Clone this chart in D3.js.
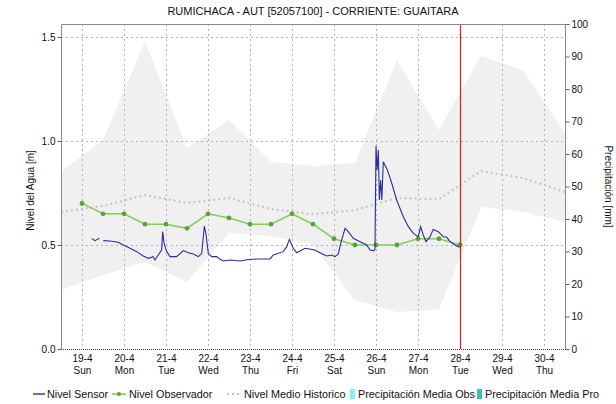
<!DOCTYPE html>
<html>
<head>
<meta charset="utf-8">
<script src="https://cdn.jsdelivr.net/npm/d3@7"></script>
<style>
  body { margin: 0; background: #fff; }
  svg { display: block; }
  text { font-family: "Liberation Sans", Arial, sans-serif; fill: #111; }
</style>
</head>
<body>
<svg id="chart" width="616" height="404"></svg>
<script>
// ---- data -------------------------------------------------------------
const chartTitle = "RUMICHACA - AUT [52057100] - CORRIENTE: GUAITARA";

const dayTicks = ["2020-04-19", "2020-04-20", "2020-04-21", "2020-04-22", "2020-04-23", "2020-04-24",
                  "2020-04-25", "2020-04-26", "2020-04-27", "2020-04-28", "2020-04-29", "2020-04-30"];
const dayNames = ["Sun", "Mon", "Tue", "Wed", "Thu", "Fri", "Sat", "Sun", "Mon", "Tue", "Wed", "Thu"];

const levelTicks = [0, 0.5, 1.0, 1.5];
const precipTicks = [0, 10, 20, 30, 40, 50, 60, 70, 80, 90, 100];

// Sensor level (m); null marks a gap in transmission
const sensorTimes = [
  "19 05:30", "19 07:25", "19 09:55", "19 11:00", "19 12:10", "19 16:00", "19 20:45", "19 23:35",
  "20 03:25", "20 07:20", "20 11:00", "20 13:55", "20 16:40", "20 17:40", "20 19:35", "20 21:30",
  "20 22:05", "20 22:55", "21 00:25", "21 02:20", "21 06:05", "21 09:55", "21 12:40", "21 15:35",
  "21 18:30", "21 20:25", "21 21:55", "21 22:55", "22 00:10", "22 02:05", "22 05:00", "22 06:55",
  "22 08:40", "22 13:00", "22 18:20", "22 23:00", "23 04:40", "23 07:35", "23 11:25", "23 13:20",
  "23 19:00", "23 21:00", "23 22:30", "24 00:40", "24 02:40", "24 07:25", "24 13:05", "24 16:00",
  "24 19:50", "24 22:40", "25 00:35", "25 02:30", "25 03:50", "25 06:20", "25 08:10", "25 11:00",
  "25 14:55", "25 18:40", "25 20:35", "25 22:30", "25 23:25", "26 00:00", "26 00:40", "26 01:20",
  "26 01:55", "26 02:40", "26 03:20", "26 04:10", "26 06:30", "26 09:00", "26 11:50", "26 15:35",
  "26 18:30", "26 21:20", "27 00:10", "27 01:30", "27 03:00", "27 04:35", "27 06:55", "27 08:40",
  "27 11:35", "27 14:30", "27 16:25", "27 18:20", "27 21:05", "27 23:35"
];
const sensorLevels = [
  0.532, 0.521, 0.532, null, 0.521, 0.519, 0.513, 0.500,
  0.484, 0.468, 0.447, 0.436, 0.444, 0.428, 0.452, 0.476,
  0.564, 0.508, 0.468, 0.444, 0.444, 0.473, 0.463, 0.457,
  0.444, 0.460, 0.591, 0.548, 0.460, 0.444, 0.444, 0.431,
  0.423, 0.428, 0.423, 0.430, 0.433, 0.433, 0.433, 0.452,
  0.468, 0.492, 0.527, 0.484, 0.463, 0.484, 0.476, 0.463,
  0.447, 0.452, 0.444, 0.457, 0.508, 0.580, 0.564, 0.532,
  0.516, 0.500, 0.476, 0.473, 0.476, 0.976, 0.861, 0.957,
  0.716, 0.812, 0.716, 0.900, 0.861, 0.797, 0.716, 0.636,
  0.588, 0.556, 0.540, 0.588, 0.548, 0.516, 0.540, 0.575,
  0.564, 0.540, 0.537, 0.516, 0.500, 0.489
];

// Observer readings (m), twice a day
const observerTimes = [
  "19 00:00", "19 12:00", "20 00:00", "20 12:00", "21 00:00", "21 12:00", "22 00:00", "22 12:00",
  "23 00:00", "23 12:00", "24 00:00", "24 12:00", "25 00:00", "25 12:00", "26 00:00", "26 12:00",
  "27 00:00", "27 12:00", "28 00:00"
];
const observerLevels = [
  0.70, 0.65, 0.65, 0.60, 0.60, 0.58, 0.65, 0.63,
  0.60, 0.60, 0.65, 0.60, 0.53, 0.50, 0.50, 0.50,
  0.53, 0.53, 0.50
];

// Historical daily statistics (m)
const historyTimes = [
  "18 12:00", "19 12:00", "20 12:00", "21 12:00", "22 12:00", "23 12:00", "24 12:00",
  "25 12:00", "26 12:00", "27 12:00", "28 12:00", "29 12:00", "30 12:00"
];
const historyMean = [0.659, 0.688, 0.740, 0.702, 0.726, 0.673, 0.648, 0.668, 0.726, 0.720, 0.856, 0.822, 0.755];
const historyMax  = [0.852, 1.005, 1.477, 0.966, 1.101, 0.900, 0.880, 0.894, 1.389, 1.053, 1.409, 1.341, 1.038];
const historyMin  = [0.284, 0.356, 0.418, 0.322, 0.558, 0.543, 0.500, 0.236, 0.178, 0.190, 0.683, 0.660, 0.610];

const nowTime = "28 00:00";

const legendLabels = ["Nivel Sensor", "Nivel Observador", "Nivel Medio Historico",
                      "Precipitación Media Obs", "Precipitación Media Pro"];

// ---- layout -----------------------------------------------------------
const plot = { left: 61, right: 565, top: 24, bottom: 349 };

const parseDay = d3.timeParse("%Y-%m-%d");
const parseStamp = s => d3.timeParse("%Y-%m-%d %H:%M")("2020-04-" + s);

const x = d3.scaleTime()
  .domain([parseStamp("18 12:00"), parseStamp("30 12:00")])
  .range([plot.left, plot.right]);
const yL = d3.scaleLinear().domain([0, 1.5625]).range([plot.bottom, plot.top]);
const yR = d3.scaleLinear().domain([0, 100]).range([plot.bottom, plot.top]);

const svg = d3.select("#chart");

// historical min–max band
const band = historyTimes.map((t, i) => ({ t: parseStamp(t), lo: historyMin[i], hi: historyMax[i] }));
svg.append("path")
  .datum(band)
  .attr("fill", "#f0f0f0")
  .attr("d", d3.area().x(d => x(d.t)).y0(d => yL(d.lo)).y1(d => yL(d.hi)));

// grid
const grid = svg.append("g").attr("stroke", "#b4b4b4").attr("stroke-dasharray", "2,3").attr("stroke-width", 1);
grid.selectAll("line.v").data(dayTicks).join("line")
  .attr("x1", d => Math.round(x(parseDay(d))) + 0.5).attr("x2", d => Math.round(x(parseDay(d))) + 0.5)
  .attr("y1", plot.top).attr("y2", plot.bottom);
grid.selectAll("line.h").data(levelTicks.filter(v => v > 0)).join("line")
  .attr("x1", plot.left).attr("x2", plot.right)
  .attr("y1", d => Math.round(yL(d)) + 0.5).attr("y2", d => Math.round(yL(d)) + 0.5);

// historical mean
svg.append("path")
  .datum(historyTimes.map((t, i) => ({ t: parseStamp(t), v: historyMean[i] })))
  .attr("fill", "none").attr("stroke", "#c4c4c4").attr("stroke-width", 2).attr("stroke-dasharray", "2,3")
  .attr("d", d3.line().x(d => x(d.t)).y(d => yL(d.v)));

// observer
const obs = observerTimes.map((t, i) => ({ t: parseStamp(t), v: observerLevels[i] }));
svg.append("path")
  .datum(obs)
  .attr("fill", "none").attr("stroke", "#86cc5a").attr("stroke-width", 1.6)
  .attr("d", d3.line().x(d => x(d.t)).y(d => yL(d.v)));
svg.append("g").selectAll("circle").data(obs).join("circle")
  .attr("cx", d => x(d.t)).attr("cy", d => yL(d.v)).attr("r", 2.4).attr("fill", "#4fa832");

// sensor
const sens = sensorTimes.map((t, i) => ({ t: parseStamp(t), v: sensorLevels[i] }));
svg.append("path")
  .datum(sens)
  .attr("fill", "none").attr("stroke", "#2b2ba6").attr("stroke-width", 1.1)
  .attr("d", d3.line().defined(d => d.v !== null).x(d => x(d.t)).y(d => yL(d.v)));

// current time marker
svg.append("line")
  .attr("x1", Math.round(x(parseStamp(nowTime))) + 0.5).attr("x2", Math.round(x(parseStamp(nowTime))) + 0.5)
  .attr("y1", plot.top).attr("y2", plot.bottom)
  .attr("stroke", "#d42020").attr("stroke-width", 1.2);

// frame
svg.append("path")
  .attr("d", `M${plot.left + 0.5},${plot.bottom} V${plot.top + 0.5} H${plot.right + 0.5} V${plot.bottom}`)
  .attr("fill", "none").attr("stroke", "#8a8a8a");
svg.append("line")
  .attr("x1", plot.left).attr("x2", plot.right + 1)
  .attr("y1", plot.bottom + 0.5).attr("y2", plot.bottom + 0.5)
  .attr("stroke", "#444").attr("stroke-dasharray", "1,1");

// left axis
const axL = svg.append("g").attr("transform", `translate(${plot.left + 0.5},0)`)
  .call(d3.axisLeft(yL).tickValues(levelTicks).tickFormat(d3.format(".1f")).tickSize(4).tickPadding(2));
axL.select(".domain").remove();
axL.selectAll("line").attr("stroke", "#666");
axL.selectAll("text").attr("font-size", 10).attr("fill", "#222");

// right axis
const axR = svg.append("g").attr("transform", `translate(${plot.right + 0.5},0)`)
  .call(d3.axisRight(yR).tickValues(precipTicks).tickSize(4).tickPadding(2));
axR.select(".domain").remove();
axR.selectAll("line").attr("stroke", "#666");
axR.selectAll("text").attr("font-size", 10).attr("fill", "#222");

// bottom axis with date + weekday labels
const axB = svg.append("g").attr("transform", `translate(0,${plot.bottom})`)
  .call(d3.axisBottom(x).tickValues(dayTicks.map(parseDay)).tickSize(0).tickFormat(""));
axB.select(".domain").remove();
axB.selectAll(".tick").each(function (d, i) {
  const g = d3.select(this);
  g.append("text").attr("y", 13).attr("text-anchor", "middle").attr("font-size", 10).attr("fill", "#222")
    .text(d3.timeFormat("%-d-%-m")(d));
  g.append("text").attr("y", 25).attr("text-anchor", "middle").attr("font-size", 10).attr("fill", "#222")
    .text(dayNames[i]);
});

// axis titles
svg.append("text")
  .attr("transform", `translate(34,${(plot.top + plot.bottom) / 2 + 4}) rotate(-90)`)
  .attr("text-anchor", "middle").attr("font-size", 10).text("Nivel del Agua [m]");
svg.append("text")
  .attr("transform", `translate(605,${(plot.top + plot.bottom) / 2}) rotate(90)`)
  .attr("text-anchor", "middle").attr("font-size", 10).text("Precipitación [mm]");

// title
svg.append("text")
  .attr("x", (plot.left + plot.right) / 2).attr("y", 15)
  .attr("text-anchor", "middle").attr("font-size", 11).text(chartTitle);

// legend
const leg = svg.append("g").attr("transform", "translate(0,394)");
const legX = [33, 112, 227, 349, 476];
legendLabels.forEach((label, i) => {
  const g = leg.append("g").attr("transform", `translate(${legX[i]},0)`);
  if (i === 0) {
    g.append("line").attr("x1", 0).attr("x2", 12).attr("stroke", "#2b2ba6").attr("stroke-width", 1.4);
  } else if (i === 1) {
    g.append("line").attr("x1", 0).attr("x2", 14).attr("stroke", "#86cc5a").attr("stroke-width", 1.6);
    g.append("circle").attr("cx", 7).attr("r", 2).attr("fill", "#4fa832");
  } else if (i === 2) {
    g.append("line").attr("x1", 0).attr("x2", 14).attr("stroke", "#c4c4c4").attr("stroke-width", 2)
      .attr("stroke-dasharray", "2,3");
  } else {
    g.append("rect").attr("x", 1).attr("y", -5).attr("width", 5).attr("height", 10)
      .attr("fill", i === 3 ? "#7ff3f3" : "#3fbcbc");
  }
  const off = i === 0 ? 14 : (i >= 3 ? 9 : 17);
  g.append("text").attr("x", off).attr("y", 3.5).attr("font-size", 10.8).attr("fill", "#222").text(label);
});
</script>
</body>
</html>
